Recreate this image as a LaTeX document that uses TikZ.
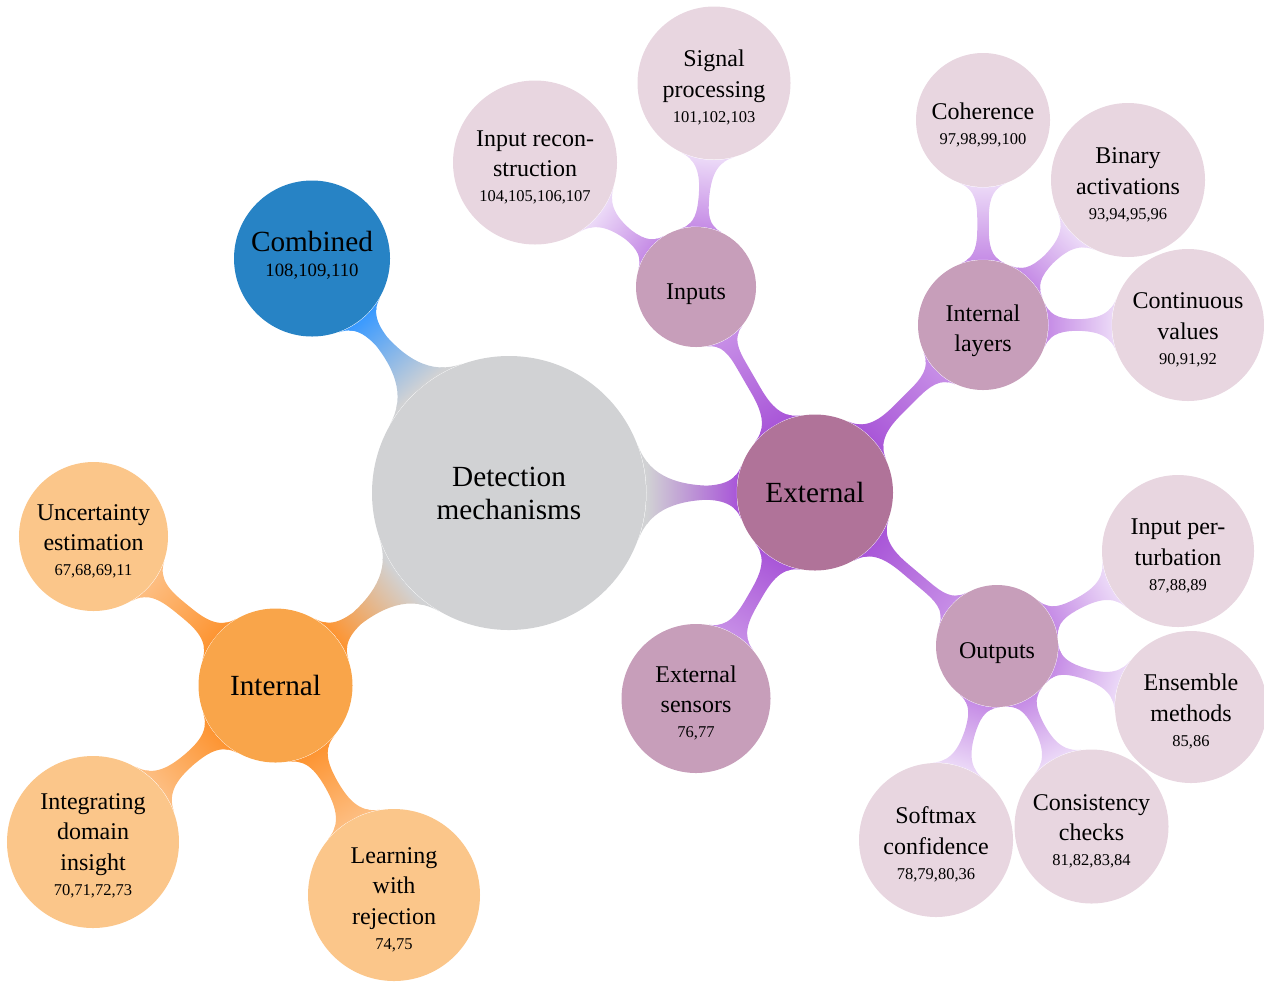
\documentclass[tikz,border=0pt]{standalone}
\usepackage{fontspec}
\setmainfont{Liberation Serif}
\usetikzlibrary{mindmap,decorations}
\definecolor{detcol}{HTML}{D1D2D4}
\definecolor{combfill}{HTML}{2783C5}
\definecolor{combbar}{HTML}{3A9AFF}
\definecolor{intfill}{HTML}{F9A54A}
\definecolor{intbar}{HTML}{FD9533}
\definecolor{ichfill}{HTML}{FBC68A}
\definecolor{ichbar}{HTML}{FDBD80}
\definecolor{extfill}{HTML}{B07399}
\definecolor{extbar}{HTML}{A957D8}
\definecolor{ltwofill}{HTML}{C79EBA}
\definecolor{ltwobar}{HTML}{C68DE6}
\definecolor{lthreefill}{HTML}{E8D6E0}
\definecolor{lthreebar}{HTML}{EBD8F7}
\newcommand{\numf}{\fontsize{6.6}{8}\selectfont}
\newcommand{\bignumf}{\fontsize{7.5}{9}\selectfont}
\newcommand{\tstrut}[1]{\rule{0pt}{#1}}
\newcommand{\bstrut}[1]{\rule[-#1]{0pt}{#1}}
\begin{document}
\begin{tikzpicture}[x=0.4pt,y=-0.4pt,
  cpt/.style={circle,inner sep=0pt,align=center,text=black,font=\fontsize{9.6}{12.2}\selectfont},
  bigcpt/.style={cpt,font=\fontsize{11.7}{13.2}\selectfont},
  mainbar/.style={line width=5.3pt},
  subbar/.style={line width=4.8pt}]
\useasboundingbox (0,0) rectangle (1264,981);
% nodes
\node[bigcpt,fill=detcol,minimum size=109.6pt] (det) at (509,493) {Detection\\mechanisms};
\node[bigcpt,fill=combfill,minimum size=62.4pt] (comb) at (312,258.5) {Combined\\[-3.2pt]{\bignumf 108,109,110\bstrut{4pt}}};
\node[bigcpt,fill=intfill,minimum size=61.6pt] (int) at (275.5,685.5) {Internal};
\node[bigcpt,fill=extfill,minimum size=62.4pt] (ext) at (815,492.5) {External};
% internal children
\node[cpt,fill=ichfill,minimum size=59.6pt] (unc) at (93.5,536.5) {\tstrut{10.4pt}Uncertainty\\estimation\\[-2.2pt]{\numf 67,68,69,11}};
\node[cpt,fill=ichfill,minimum size=68.8pt] (dom) at (93,842) {\tstrut{9pt}Integrating\\domain\\insight\\[-2.2pt]{\numf 70,71,72,73}};
\node[cpt,fill=ichfill,minimum size=68.8pt] (rej) at (394,895) {\tstrut{10pt}Learning\\with\\rejection\\[-2.2pt]{\numf 74,75}};
% external children
\node[cpt,fill=ltwofill,minimum size=48pt] (inp) at (696,287) {\tstrut{12.3pt}Inputs};
\node[cpt,fill=ltwofill,minimum size=52pt] (lay) at (983,325) {\tstrut{11.4pt}Internal\\layers};
\node[cpt,fill=ltwofill,minimum size=48.8pt] (out) at (997,646) {\tstrut{12.4pt}Outputs};
\node[cpt,fill=ltwofill,minimum size=59.6pt] (sen) at (696,698.5) {\tstrut{10pt}External\\sensors\\[-2.2pt]{\numf 76,77}};
% level 3
\node[cpt,fill=lthreefill,minimum size=61.2pt] (sig) at (714,83) {\tstrut{10.4pt}Signal\\processing\\[-2.2pt]{\numf 101,102,103}};
\node[cpt,fill=lthreefill,minimum size=65.6pt] (rec) at (535,162.5) {\tstrut{10.2pt}Input recon-\\struction\\[-2.2pt]{\numf 104,105,106,107}};
\node[cpt,fill=lthreefill,minimum size=53.6pt] (coh) at (983,120) {\tstrut{10.8pt}Coherence\\[-2.2pt]{\numf 97,98,99,100}};
\node[cpt,fill=lthreefill,minimum size=61.6pt] (bin) at (1128,180) {\tstrut{10.4pt}Binary\\activations\\[-2.2pt]{\numf 93,94,95,96}};
\node[cpt,fill=lthreefill,minimum size=60.8pt] (con) at (1188,325) {\tstrut{10.4pt}Continuous\\values\\[-2.2pt]{\numf 90,91,92}};
\node[cpt,fill=lthreefill,minimum size=60.8pt] (per) at (1178,551) {\tstrut{10.4pt}Input per-\\turbation\\[-2.2pt]{\numf 87,88,89}};
\node[cpt,fill=lthreefill,minimum size=60.8pt] (ens) at (1191,707) {\tstrut{10.4pt}Ensemble\\methods\\[-2.2pt]{\numf 85,86}};
\node[cpt,fill=lthreefill,minimum size=61.6pt] (cons) at (1091.5,826.5) {\tstrut{10.2pt}Consistency\\checks\\[-2.2pt]{\numf 81,82,83,84}};
\node[cpt,fill=lthreefill,minimum size=61.6pt] (soft) at (936,840) {\tstrut{10.2pt}Softmax\\confidence\\[-2.2pt]{\numf 78,79,80,36}};
% connections
\path[mainbar] (det) to[circle connection bar switch color=from (detcol) to (combbar)] (comb);
\path[mainbar] (det) to[circle connection bar switch color=from (detcol) to (intbar)] (int);
\path[mainbar] (det) to[circle connection bar switch color=from (detcol) to (extbar)] (ext);
\path[subbar] (int) to[circle connection bar switch color=from (intbar) to (ichbar)] (unc);
\path[subbar] (int) to[circle connection bar switch color=from (intbar) to (ichbar)] (dom);
\path[subbar] (int) to[circle connection bar switch color=from (intbar) to (ichbar)] (rej);
\path[subbar] (ext) to[circle connection bar switch color=from (extbar) to (ltwobar)] (inp);
\path[subbar] (ext) to[circle connection bar switch color=from (extbar) to (ltwobar)] (lay);
\path[subbar] (ext) to[circle connection bar switch color=from (extbar) to (ltwobar)] (out);
\path[subbar] (ext) to[circle connection bar switch color=from (extbar) to (ltwobar)] (sen);
\path[subbar] (inp) to[circle connection bar switch color=from (ltwobar) to (lthreebar)] (sig);
\path[subbar] (inp) to[circle connection bar switch color=from (ltwobar) to (lthreebar)] (rec);
\path[subbar] (lay) to[circle connection bar switch color=from (ltwobar) to (lthreebar)] (coh);
\path[subbar] (lay) to[circle connection bar switch color=from (ltwobar) to (lthreebar)] (bin);
\path[subbar] (lay) to[circle connection bar switch color=from (ltwobar) to (lthreebar)] (con);
\path[subbar] (out) to[circle connection bar switch color=from (ltwobar) to (lthreebar)] (per);
\path[subbar] (out) to[circle connection bar switch color=from (ltwobar) to (lthreebar)] (ens);
\path[subbar] (out) to[circle connection bar switch color=from (ltwobar) to (lthreebar)] (cons);
\path[subbar] (out) to[circle connection bar switch color=from (ltwobar) to (lthreebar)] (soft);
\end{tikzpicture}
\end{document}
